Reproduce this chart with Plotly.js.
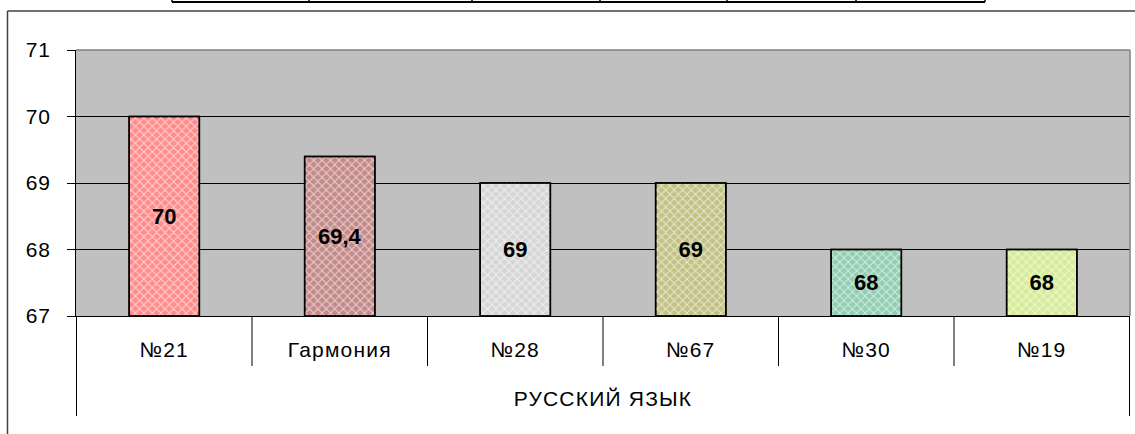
<!DOCTYPE html>
<html>
<head>
<meta charset="utf-8">
<script src="https://cdn.plot.ly/plotly-3.0.1.min.js"></script>
<style>
html,body{margin:0;padding:0;background:#fff;}
#chart{width:1135px;height:434px;}
#chart .xtick text, #chart .g-xtitle text{letter-spacing:1.2px;}
#chart .ytick text{letter-spacing:0.8px;}
</style>
</head>
<body>
<div id="chart"></div>
<script>
// ---- data ----
const groupLabel = 'РУССКИЙ ЯЗЫК';
const categories = ['№21', 'Гармония', '№28', '№67', '№30', '№19'];
const values = [70, 69.4, 69, 69, 68, 68];
const barColors = ['#FF8C8C', '#C48A8A', '#D6D6D6', '#C2C286', '#92CEB2', '#D6EC98'];
const yTicks = [67, 68, 69, 70, 71];

const yMin = yTicks[0], yMax = yTicks[yTicks.length - 1];

// paper-coordinate helpers (plot area: l=76, r=5, t=50, b=118 in a 1135x434 page)
const L = 76, R = 5, T = 50, B = 118, W = 1135, H = 434;
const pw = W - L - R, ph = H - T - B;
const px = v => (v - L) / pw;
const py = v => (H - B - v) / ph;

// solid coloured bars
const solid = {
  type: 'bar',
  x: categories,
  y: values.map(v => v - yMin),
  base: yMin,
  marker: {color: barColors, line: {color: '#000', width: 1.5}},
  hoverinfo: 'skip'
};
// white weave-like texture on top, carrying the value labels
const texture = {
  type: 'bar',
  x: categories,
  y: values.map(v => v - yMin),
  base: yMin,
  text: values.map(v => String(v).replace('.', ',')),
  textposition: 'inside',
  insidetextanchor: 'middle',
  textangle: 0,
  textfont: {family: 'Liberation Sans, Arial, sans-serif', size: 22, color: '#000', weight: 'bold'},
  marker: {
    color: '#ffffff',
    line: {color: '#000', width: 1.5},
    pattern: {shape: 'x', fillmode: 'replace', size: 6, solidity: 0.3, fgopacity: 0.6}
  },
  hoverinfo: 'skip'
};

const shapes = [];
// category dividers below the axis
for (let i = 0; i <= categories.length; i++) {
  const outer = (i === 0 || i === categories.length);
  shapes.push({type: 'line', xref: 'x', yref: 'paper', x0: i - 0.5, x1: i - 0.5,
    y0: 0, y1: outer ? py(416) : py(366), line: {color: '#000', width: 1}});
}
// plot area border (top, right) in gray
shapes.push({type: 'line', xref: 'paper', yref: 'paper', x0: 0, x1: 1, y0: 1, y1: 1, line: {color: '#808080', width: 1.5}});
shapes.push({type: 'line', xref: 'paper', yref: 'paper', x0: 1, x1: 1, y0: 0, y1: 1, line: {color: '#808080', width: 1.5}});
// chart outer border
shapes.push({type: 'line', xref: 'paper', yref: 'paper', x0: px(7.5), x1: px(1140), y0: py(11), y1: py(11), line: {color: '#404040', width: 1.5}});
shapes.push({type: 'line', xref: 'paper', yref: 'paper', x0: px(7.5), x1: px(7.5), y0: py(11), y1: py(440), line: {color: '#404040', width: 1.5}});
// bottom of the data table above the chart
shapes.push({type: 'line', xref: 'paper', yref: 'paper', x0: px(172), x1: px(985), y0: py(2), y1: py(2), line: {color: '#000', width: 2}});
[172, 309, 472, 600, 727, 856, 985].forEach(xx => {
  shapes.push({type: 'line', xref: 'paper', yref: 'paper', x0: px(xx), x1: px(xx), y0: py(-2), y1: py(2), line: {color: '#000', width: 1.5}});
});

const font = {family: 'Liberation Sans, Arial, sans-serif', size: 21, color: '#000'};

const layout = {
  width: W, height: H,
  margin: {l: L, r: R, t: T, b: B, pad: 0},
  paper_bgcolor: '#ffffff',
  plot_bgcolor: '#C0C0C0',
  font: font,
  showlegend: false,
  barmode: 'overlay',
  bargap: 0.6,
  xaxis: {
    type: 'category',
    showgrid: false,
    showline: true, linecolor: '#000', linewidth: 1,
    ticks: '',
    tickfont: font,
    ticklabelstandoff: 15,
    title: {text: groupLabel, font: font, standoff: 31},
    automargin: false,
    fixedrange: true
  },
  yaxis: {
    range: [yMin, yMax],
    tickvals: yTicks,
    ticktext: yTicks.map(String),
    showgrid: true, gridcolor: '#000', gridwidth: 1,
    showline: true, linecolor: '#000', linewidth: 1,
    ticks: 'outside', ticklen: 8, tickcolor: '#000', tickwidth: 1,
    tickfont: font,
    ticklabelstandoff: 12,
    zeroline: false,
    automargin: false,
    fixedrange: true
  },
  shapes: shapes
};

Plotly.newPlot('chart', [solid, texture], layout, {displayModeBar: false, staticPlot: true});
</script>
</body>
</html>
